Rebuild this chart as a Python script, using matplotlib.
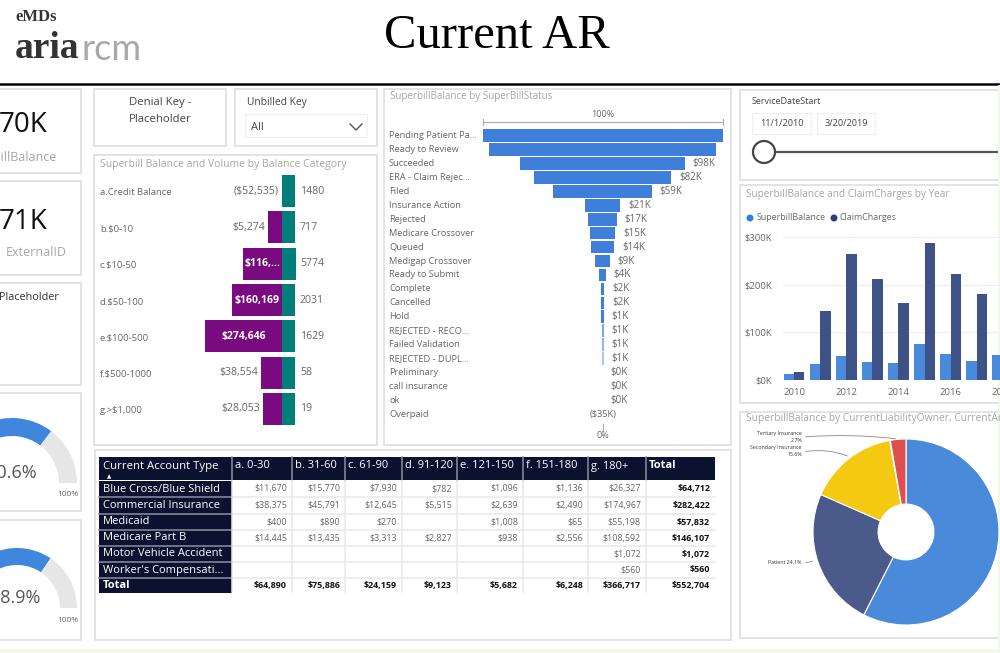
import matplotlib
matplotlib.use("Agg")
import matplotlib.pyplot as plt
from matplotlib.patches import Rectangle, Circle

plt.rcParams['font.family'] = ['Open Sans', 'DejaVu Sans']

# balance category chart, bar lengths are read in pixels since the bars are not to scale
balance_cats = ["a.Credit Balance", "b.$0-10", "c.$10-50", "d.$50-100", "e.$100-500", "f.$500-1000", "g.>$1,000"]
balance_labels = ["($52,535)", "$5,274", "$116,...", "$160,169", "$274,646", "$38,554", "$28,053"]
balance_len = [0, 14, 39, 50, 77, 21, 19]
volume_labels = ["1480", "717", "5774", "2031", "1629", "58", "19"]
volume_len = [13, 13, 14, 13, 13, 13, 13]

# funnel
status_cats = ["Pending Patient Pa...", "Ready to Review", "Succeeded", "ERA - Claim Rejec...", "Filed",
               "Insurance Action", "Rejected", "Medicare Crossover", "Queued", "Medigap Crossover",
               "Ready to Submit", "Complete", "Cancelled", "Hold", "REJECTED - RECO...", "Failed Validation",
               "REJECTED - DUPL...", "Preliminary", "call insurance", "ok", "Overpaid"]
status_vals = [143, 135, 98, 82, 59, 21, 17, 15, 14, 9, 4, 2, 2, 1.5, 1, 1, 1, 0, 0, 0, 0]
status_labels = ["", "", "$98K", "$82K", "$59K", "$21K", "$17K", "$15K", "$14K", "$9K", "$4K", "$2K", "$2K",
                 "$1K", "$1K", "$1K", "$1K", "$0K", "$0K", "$0K", "($35K)"]

# yearly columns
years = [2010, 2011, 2012, 2013, 2014, 2015, 2016, 2017, 2018]
superbill_balance = [13, 34, 51, 38, 35, 76, 55, 39, 53]
claim_charges = [17, 146, 265, 212, 161, 287, 223, 181]

# donut
owner_vals = [57.5, 24.1, 15.6, 0.1, 2.7]
owner_colors = ["#4a8ada", "#4a5a8a", "#f3c911", "#8a5ac0", "#de5050"]

gauge_vals = [0.706, 0.689]
gauge_labels = ["70.6%", "68.9%"]

# table
table_cols = ["a. 0-30", "b. 31-60", "c. 61-90", "d. 91-120", "e. 121-150", "f. 151-180", "g. 180+", "Total"]
table_rows = ["Blue Cross/Blue Shield", "Commercial Insurance", "Medicaid", "Medicare Part B",
              "Motor Vehicle Accident", "Worker's Compensati...", "Total"]
blue_cross = [11670, 15770, 7930, 782, 1096, 1136, 26327, 64712]
commercial = [38375, 45791, 12645, 5515, 2639, 2490, 174967, 282422]
medicaid = [400, 890, 270, None, 1008, 65, 55198, 57832]
medicare = [14445, 13435, 3313, 2827, 938, 2556, 108592, 146107]
motor = [None, None, None, None, None, None, 1072, 1072]
workers = [None, None, None, None, None, None, 560, 560]
totals = [64890, 75886, 24159, 9123, 5682, 6248, 366717, 552704]
table_vals = [blue_cross, commercial, medicaid, medicare, motor, workers, totals]

GREY = "#666666"
TITLE = "#a6a6a6"
W, H = 1000, 653

fig = plt.figure(figsize=(10, 6.53), dpi=100)
ov = fig.add_axes([0, 0, 1, 1], zorder=0)
ov.set_xlim(0, W)
ov.set_ylim(H, 0)
ov.axis("off")


def px_axes(left, top, right, bottom):
    ax = fig.add_axes([left / W, 1 - bottom / H, (right - left) / W, (bottom - top) / H], zorder=2)
    ax.patch.set_alpha(0)
    return ax


def panel(x0, y0, x1, y1):
    ov.add_patch(Rectangle((x0, y0), x1 - x0, y1 - y0, fc="white", ec="#e0e0e0", lw=1.3))


def txt(x, y, s, size=7, color=GREY, ha="left", **kw):
    ov.text(x, y, s, fontsize=size, color=color, ha=ha, va="center", **kw)


# page tint and header
ov.add_patch(Rectangle((0, 649), W, 4, fc="#f3f8e4", ec="none"))
ov.add_patch(Rectangle((998, 85), 2, 568, fc="#f3f8e4", ec="none", zorder=3))
ov.plot([0, W], [84, 84], color="black", lw=1.8)
txt(497, 36, "Current AR", size=35, color="black", ha="center", family="Liberation Serif")
txt(15, 17, "eMDs", size=12, color="#333333", weight="bold", family="Liberation Serif")
txt(15, 49, "aria", size=27, color="#333333", weight="bold", family="Liberation Serif")
txt(81, 49, "rcm", size=26, color="#a8a8a8", family="Lato")

# panels
for box in [(-3, 89, 81, 173), (-3, 181, 81, 275), (-3, 283, 81, 385), (-3, 393, 81, 511), (-3, 520, 81, 640),
            (94, 89, 226, 146), (235, 89, 377, 146), (94, 155, 377, 445), (384, 89, 731, 445),
            (740, 90, 1003, 180), (740, 185, 1003, 403), (740, 412, 1003, 638), (95, 450, 731, 640)]:
    panel(*box)

# kpi cards
txt(47, 125, "70K", size=20, color="#111111", ha="right")
txt(57, 157, "SuperbillBalance", size=9, color="#a6a6a6", ha="right")
txt(48, 222, "71K", size=20, color="#111111", ha="right")
txt(67, 253, "ExternalID", size=9, color="#a6a6a6", ha="right")
txt(59, 298, "Placeholder", size=7.8, color="#333333", ha="right")

# gauges
for val, label, cx, cy, r, inner, text_x in [(gauge_vals[0], gauge_labels[0], 12, 483, 65, 47, 37),
                                             (gauge_vals[1], gauge_labels[1], 17, 608, 60, 43, 40)]:
    ax = px_axes(cx - r, cy - r, cx + r, cy + r)
    ax.pie([val, 1 - val, 1], colors=["#3f86dc", "#e6e6e6", "none"], startangle=180, counterclock=False,
           radius=1, wedgeprops={"width": 1 - inner / r})
    ax.set_xlim(-1, 1)
    ax.set_ylim(-1, 1)
    ax.set_aspect("auto")
    txt(text_x, cy - 10, label, size=13, color="#555555", ha="right")
    txt(78, cy + 12, "100%", size=6, color=GREY, ha="right")

# slicers
txt(160, 102, "Denial Key -", size=8.2, color="#444444", ha="center")
txt(160, 119, "Placeholder", size=8.2, color="#444444", ha="center")
txt(247, 102, "Unbilled Key", size=7.4, color="#444444")
ov.add_patch(Rectangle((245, 114), 122, 23, fc="white", ec="#f0f0f0", lw=1))
txt(251, 127, "All", size=8, color="#444444")
ov.plot([350, 356, 362], [124, 130, 124], color="#555555", lw=1)

txt(752, 101, "ServiceDateStart", size=6.5, color="#444444")
for x0, x1, s in [(752, 811, "11/1/2010"), (817, 875, "3/20/2019")]:
    ov.add_patch(Rectangle((x0, 113), x1 - x0, 21, fc="white", ec="#f0f0f0", lw=1))
    txt((x0 + x1) / 2, 124, s, size=6.6, color="#444444", ha="center")
ov.plot([770, W], [152, 152], color="#555555", lw=1.6)
ov.add_patch(Circle((764, 152), 11, fc="white", ec="#444444", lw=1.6, zorder=3))

# balance category chart
txt(100, 165, "Superbill Balance and Volume by Balance Category", size=7.5, color=TITLE)
ax = px_axes(100, 173, 370, 427)
ax.barh(range(7), [-v for v in balance_len], height=0.88, color="#7a0a80")
ax.barh(range(7), volume_len, height=0.88, color="#007f7a")
ax.set_xlim(-182, 88)
ax.set_ylim(6 + 18 / 36.33, -18 / 36.33)
ax.axis("off")
for i, cat in enumerate(balance_cats):
    ax.text(-182, i + 0.05, cat, fontsize=6.8, color=GREY, va="center")
    ax.text(18, i, volume_labels[i], fontsize=7.6, color=GREY, va="center")
    if balance_len[i] > 30:
        ax.text(-balance_len[i] / 2, i, balance_labels[i], fontsize=7.5, color="white", weight="bold",
                va="center", ha="center")
    else:
        ax.text(-balance_len[i] - 3, i, balance_labels[i], fontsize=7.6, color=GREY, va="center", ha="right")

# funnel
txt(390, 97, "SuperbillBalance by SuperBillStatus", size=7.1, color=TITLE)
ax = px_axes(389, 107, 731, 440)
bar_colors = ["#3f7fd9"] * 14 + ["#7aa7e6", "#8fb6ea", "#a9c8f0"] + ["#e8e8e8"] * 4
ax.barh(range(21), status_vals, left=[-v / 2 for v in status_vals], height=0.9, color=bar_colors)
ax.set_xlim(-127.4, 76.5)
ax.set_ylim(21.85, -2.06)
ax.axis("off")
ax.plot([-71.5, 71.5], [-1, -1], color="#aaaaaa", lw=0.8)
ax.plot([-71.5, -71.5], [-1.2, -0.8], color="#aaaaaa", lw=0.8)
ax.plot([71.5, 71.5], [-1.2, -0.8], color="#aaaaaa", lw=0.8)
ax.plot([0, 0], [20.7, 21.1], color="#aaaaaa", lw=0.8)
ax.text(0, -1.55, "100%", fontsize=6.5, color=GREY, ha="center", va="center")
ax.text(0, 21.55, "0%", fontsize=6.5, color=GREY, ha="center", va="center")
for i, cat in enumerate(status_cats):
    ax.text(-127.4, i, cat, fontsize=6.7, color=GREY, va="center")
    if i == 20:
        ax.text(0, i, status_labels[i], fontsize=6.7, color=GREY, va="center", ha="center")
    elif status_labels[i]:
        ax.annotate(status_labels[i], (status_vals[i] / 2, i), xytext=(5.5, 0), textcoords="offset points",
                    fontsize=7, color=GREY, va="center")

# yearly columns
txt(746, 195, "SuperbillBalance and ClaimCharges by Year", size=7.2, color=TITLE)
ov.add_patch(Circle((750, 218), 3.5, fc="#2f80e0", ec="none"))
txt(757, 218, "SuperbillBalance", size=6.4)
ov.add_patch(Circle((834, 218), 3.5, fc="#2b3f80", ec="none"))
txt(840, 218, "ClaimCharges", size=6.4)
ax = px_axes(783, 230, 1015, 380)
ax.bar([y - 0.2 for y in years], superbill_balance, width=0.4, color="#4a8ada")
ax.bar([y + 0.2 for y in years[:len(claim_charges)]], claim_charges, width=0.4, color="#3f5288")
ax.set_xlim(2010 + (783 - 794) / 26.1, 2010 + (1015 - 794) / 26.1)
ax.set_ylim(0, 150 / 47.6 * 100)
ax.set_yticks([0, 100, 200, 300], ["$0K", "$100K", "$200K", "$300K"])
ax.set_xticks([2010, 2012, 2014, 2016, 2018], ["2010", "2012", "2014", "2016", "2018"])
ax.tick_params(length=0, labelsize=6.8, labelcolor=GREY, pad=6)
ax.tick_params(axis="y", pad=8)
ax.grid(axis="y", color="#eeeeee", lw=0.9)
ax.set_axisbelow(True)
for s in ax.spines.values():
    s.set_visible(False)

# donut
txt(746, 419, "SuperbillBalance by CurrentLiabilityOwner, CurrentAccountType", size=7.4, color=TITLE)
ax = px_axes(906 - 93, 532 - 93, 906 + 93, 532 + 93)
ax.pie(owner_vals, colors=owner_colors, startangle=90, counterclock=False, radius=1,
       wedgeprops={"width": 0.7, "edgecolor": "white", "linewidth": 0.8})
ax.set_xlim(-1, 1)
ax.set_ylim(-1, 1)
for x0, y0, x1, y1, rad in [(803, 437, 898, 439, -0.05), (803, 452, 850, 457, -0.15), (803, 563, 815, 560, 0.1)]:
    ov.annotate("", (x1, y1), (x0, y0), zorder=3,
                arrowprops={"arrowstyle": "-", "color": "#888888", "lw": 0.6, "connectionstyle": f"arc3,rad={rad}"})
for y, s in [(433, "Tertiary Insurance"), (440, "2.7%"), (448, "Secondary Insurance"), (455, "15.6%"),
             (563, "Patient 24.1%")]:
    txt(802, y, s, size=3.8, color="#333333", ha="right")

# table
col_x = [99, 232, 292, 345, 402, 457, 523, 588, 646, 715]
row_y = [481, 497, 514, 530, 546, 562, 578, 593]
HEAD = "#0b1230"
ov.add_patch(Rectangle((99, 457), 616, 23, fc=HEAD, ec="none"))
ov.add_patch(Rectangle((99, 481), 133, 112, fc=HEAD, ec="none"))
txt(103, 466, "Current Account Type", size=8.2, color="white")
txt(107, 477, "\u25b2", size=4, color="white")
for j, col in enumerate(table_cols):
    txt(col_x[j + 1] + 3, 466, col, size=8, color="white", weight="bold" if col == "Total" else "normal")
    ov.plot([col_x[j + 1]] * 2, [457, 480], color="#8890a0", lw=1.1)
    if j < 8:
        ov.plot([col_x[j + 1]] * 2, [481, 592], color="#e8e8e8", lw=1.1)
for y in row_y[1:-1]:
    ov.plot([99, 232], [y, y], color="#8890a0", lw=1.1)
    ov.plot([232, 715], [y, y], color="#e8e8e8", lw=1.1)
for i, name in enumerate(table_rows):
    y = (row_y[i] + row_y[i + 1]) / 2
    is_total = name == "Total"
    txt(103, y, name, size=8, color="white", weight="bold" if is_total else "normal")
    for j, v in enumerate(table_vals[i]):
        if v is None:
            continue
        bold = is_total or j == 7
        txt(col_x[j + 2] - 5, y, f"${v:,}", size=6.4, color="#111111" if bold else GREY, ha="right",
            weight="bold" if bold else "normal")

fig.savefig("out.png", dpi=100)
